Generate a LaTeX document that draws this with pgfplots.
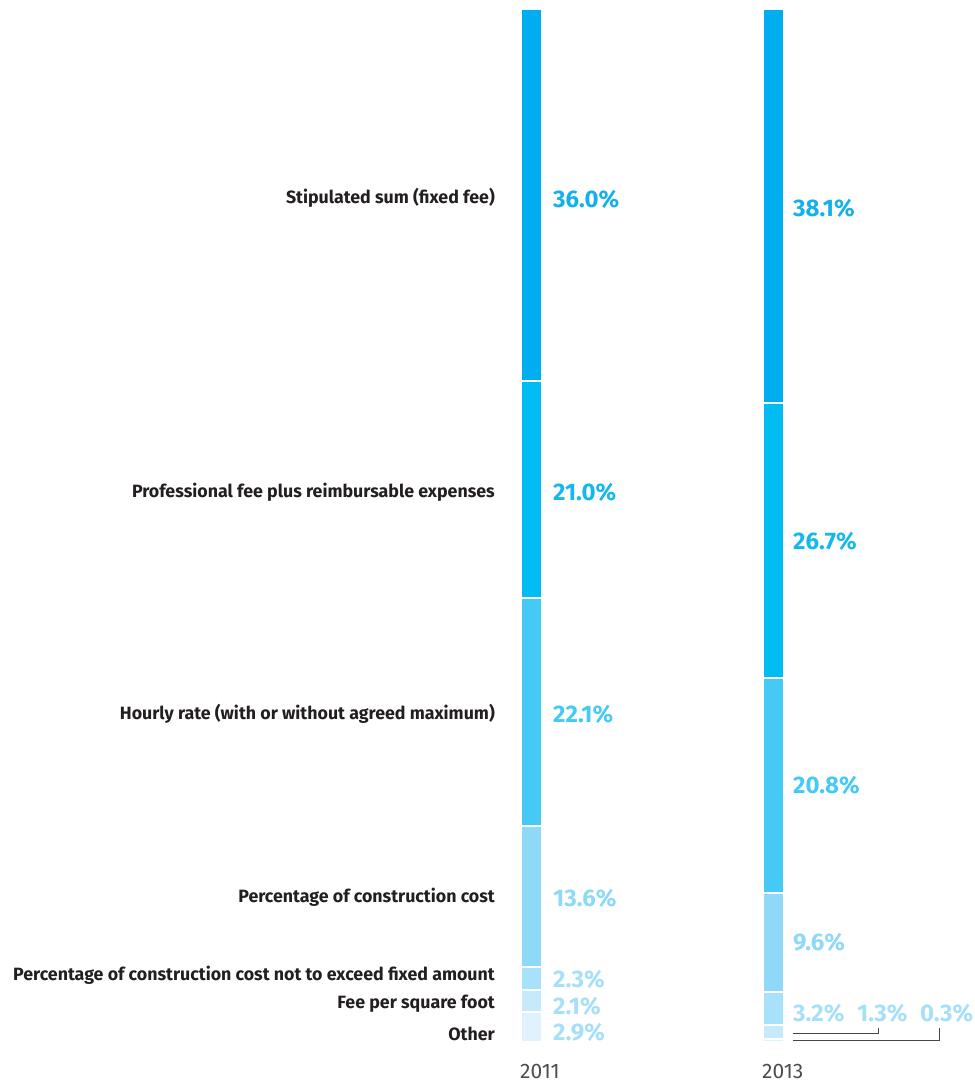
\documentclass[border=0pt]{standalone}
\usepackage{pgfplots}
\pgfplotsset{compat=1.18}
\usepackage{fontspec}
\setmainfont{Fira Sans}
\definecolor{cA}{HTML}{00AEEF}
\definecolor{cB}{HTML}{00BCF2}
\definecolor{cC}{HTML}{45C9F5}
\definecolor{cD}{HTML}{8ED8F8}
\definecolor{cE}{HTML}{A8E1FA}
\definecolor{cF}{HTML}{C6EAFA}
\definecolor{cG}{HTML}{E0F3FC}
\definecolor{tA}{HTML}{14B0EC}
\definecolor{tB}{HTML}{14B8EE}
\definecolor{tC}{HTML}{45C9F5}
\definecolor{tD}{HTML}{8ED8F8}
\definecolor{tE}{HTML}{A6DFF8}
\definecolor{lab}{HTML}{231F20}
\definecolor{yr}{HTML}{4D4D4D}
\tikzset{
  lbl/.style={anchor=east, text=lab, inner sep=0pt, font=\fontsize{17.8bp}{20bp}\selectfont\bfseries},
  pct/.style={anchor=west, font=\fontsize{24bp}{28bp}\selectfont\bfseries, inner sep=0pt},
  yrs/.style={anchor=base west, inner sep=0pt, text=yr, font=\fontsize{21bp}{24bp}\selectfont},
}
\begin{document}
\begin{tikzpicture}
\begin{axis}[
  at={(0,0)}, anchor=south west,
  scale only axis, width=975bp, height=1083bp,
  xmin=0, xmax=975, ymin=-0.8712, ymax=103.97, y dir=reverse,
  hide axis, clip=false,
  ybar stacked, bar width=21,
  every axis plot/.append style={draw=white, line width=2bp},
]
\addplot[fill=cA] coordinates {(531.5,36.0) (773.5,38.1)};
\addplot[fill=cB] coordinates {(531.5,21.0) (773.5,26.7)};
\addplot[fill=cC] coordinates {(531.5,22.1) (773.5,20.8)};
\addplot[fill=cD] coordinates {(531.5,13.6) (773.5,9.6)};
\addplot[fill=cE] coordinates {(531.5,2.3) (773.5,3.2)};
\addplot[fill=cF] coordinates {(531.5,2.1) (773.5,1.3)};
\addplot[fill=cG] coordinates {(531.5,2.9) (773.5,0.3)};
% category labels
\node[lbl] at (axis cs:495,18.3) {Stipulated sum (fixed fee)};
\node[lbl] at (axis cs:495,46.75) {Professional fee plus reimbursable expenses};
\node[lbl] at (axis cs:495,68.25) {Hourly rate (with or without agreed maximum)};
\node[lbl] at (axis cs:495,86.0) {Percentage of construction cost};
\node[lbl] at (axis cs:495,93.5) {Percentage of construction cost not to exceed fixed amount};
\node[lbl] at (axis cs:495,96.3) {Fee per square foot};
\node[lbl] at (axis cs:495,99.2) {Other};
% 2011 percentages
\node[pct, text=tA] at (axis cs:553,18.4) {36.0\%};
\node[pct, text=tB] at (axis cs:553,46.8) {21.0\%};
\node[pct, text=tC] at (axis cs:553,68.3) {22.1\%};
\node[pct, text=tD] at (axis cs:553,86.1) {13.6\%};
\node[pct, text=tE] at (axis cs:553,93.9) {2.3\%};
\node[pct, text=tE] at (axis cs:553,96.5) {2.1\%};
\node[pct, text=tE] at (axis cs:553,99.1) {2.9\%};
% 2013 percentages
\node[pct, text=tA] at (axis cs:793,19.26) {38.1\%};
\node[pct, text=tB] at (axis cs:793,51.5) {26.7\%};
\node[pct, text=tC] at (axis cs:793,75.2) {20.8\%};
\node[pct, text=tD] at (axis cs:793,90.4) {9.6\%};
\node[pct, text=tE] at (axis cs:793,97.2) {3.2\%};
\node[pct, text=tE] at (axis cs:857,97.2) {1.3\%};
\node[pct, text=tE] at (axis cs:920,97.2) {0.3\%};
% connectors
\draw[yr!90!black, line width=1bp] (axis cs:793,99.13) -- (axis cs:878,99.13) -- (axis cs:878,98.6);
\draw[yr!90!black, line width=1bp] (axis cs:793,99.9) -- (axis cs:939,99.9) -- (axis cs:939,98.6);
% years
\node[yrs] at (axis cs:520,103.5) {2011};
\node[yrs] at (axis cs:762,103.5) {2013};
\end{axis}
\pgfresetboundingbox
\path (current axis.south west) rectangle (current axis.north east);
\end{tikzpicture}
\end{document}
